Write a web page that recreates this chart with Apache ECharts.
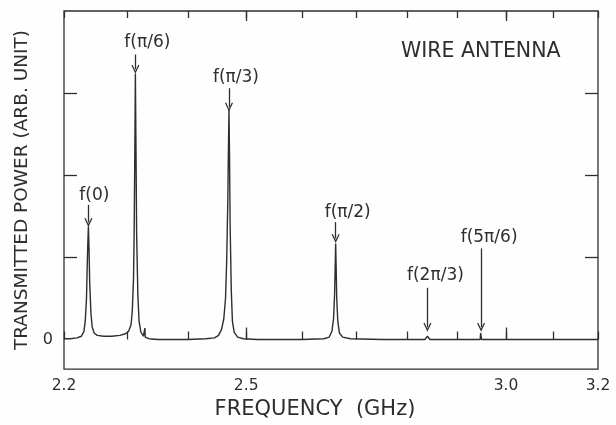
<!DOCTYPE html>
<html>
<head>
<meta charset="utf-8">
<script src="https://cdn.jsdelivr.net/npm/echarts@6/dist/echarts.min.js"></script>
<style>
html,body{margin:0;padding:0;background:#fefefe;}
#chart{width:616px;height:425px;}
</style>
</head>
<body>
<div id="chart"></div>
<script>
// ---- data ----
const freqGHz = [
  2.200, 2.210, 2.220, 2.227, 2.231, 2.233, 2.235, 2.236, 2.237, 2.238, 2.239, 2.240, 2.242, 2.244, 2.247,
  2.252, 2.262, 2.275, 2.288, 2.297, 2.302, 2.306, 2.308, 2.310, 2.311, 2.312, 2.313, 2.314, 2.315, 2.317,
  2.319, 2.322, 2.326, 2.328, 2.3285, 2.329, 2.335, 2.350, 2.400, 2.430, 2.445, 2.452, 2.457, 2.461, 2.464,
  2.466, 2.468, 2.469, 2.470, 2.471, 2.472, 2.474, 2.476, 2.479, 2.485, 2.495, 2.520, 2.600, 2.640, 2.650,
  2.655, 2.658, 2.660, 2.661, 2.662, 2.663, 2.664, 2.666, 2.669, 2.675, 2.690, 2.750, 2.834, 2.837, 2.839,
  2.841, 2.844, 2.946, 2.947, 2.949, 3.100, 3.200
];
const power = [
  0.01, 0.01, 0.02, 0.04, 0.10, 0.22, 0.50, 0.85, 1.15, 1.38, 1.10, 0.70, 0.32, 0.15, 0.08,
  0.05, 0.04, 0.04, 0.05, 0.07, 0.10, 0.18, 0.35, 0.75, 1.30, 2.20, 3.24, 2.30, 1.30, 0.55,
  0.22, 0.09, 0.04, 0.03, 0.14, 0.03, 0.01, 0.00, 0.00, 0.01, 0.02, 0.05, 0.12, 0.25, 0.50,
  0.95, 1.70, 2.30, 2.80, 2.20, 1.40, 0.60, 0.22, 0.09, 0.03, 0.01, 0.00, 0.00, 0.01, 0.03,
  0.10, 0.25, 0.55, 0.85, 1.17, 0.85, 0.50, 0.22, 0.08, 0.03, 0.01, 0.00, 0.00, 0.02, 0.04,
  0.02, 0.00, 0.00, 0.08, 0.00, 0.00, 0.00
];
const xTickValues = [2.2, 2.3, 2.4, 2.5, 2.6, 2.7, 2.8, 2.9, 3.0, 3.1, 3.2];
const xMajorTicks = [2.5, 3.0];
const xTickLabels = [2.2, 2.5, 3.0, 3.2];
const yTickValues = [1, 2, 3];
const yTickLabels = [0];
const peakLabels = ['f(0)', 'f(π/6)', 'f(π/3)', 'f(π/2)', 'f(2π/3)', 'f(5π/6)'];
const peakFreq   = [2.238, 2.313, 2.470, 2.662, 2.839, 2.948];
const arrowFrom  = [1.64, 3.47, 3.06, 1.43, 0.63, 1.11];
const arrowTo    = [1.425, 3.29, 2.83, 1.23, 0.15, 0.15];
const labelLevel = [1.75, 3.62, 3.19, 1.545, 0.78, 1.24];

// ---- styles ----
const ink = '#2e2e2e';
const font = 'DejaVu Sans';
const labelDx = [6, 12, 7, 12, 8, 8];
const chevron = 'path://M0,10 L5,0 L10,10 L8.6,10.6 L5,3.4 L1.4,10.6 Z';

const chart = echarts.init(document.getElementById('chart'), null, {renderer: 'canvas'});

const baseX = {
  type: 'log', logBase: 10, min: 2.2, max: 3.2,
  axisLine: {show: false}, splitLine: {show: false}, minorTick: {show: false}
};

const option = {
  backgroundColor: '#fefefe',
  animation: false,
  title: {
    text: 'WIRE ANTENNA', left: 401, top: 41, padding: 0,
    textStyle: {fontFamily: font, fontSize: 20.5, fontWeight: 'normal', color: ink}
  },
  grid: {left: 64, right: 18, top: 11, bottom: 50, show: true, borderColor: ink, borderWidth: 1.3, backgroundColor: 'transparent'},
  xAxis: [
    Object.assign({}, baseX, {
      position: 'bottom',
      name: 'FREQUENCY  (GHz)', nameLocation: 'middle', nameGap: 23,
      nameTextStyle: {fontFamily: font, fontSize: 21, color: ink, padding: [0, 32, 0, 0]},
      axisTick: {show: true, inside: true, length: 8, lineStyle: {color: ink, width: 1.3}, customValues: xTickValues},
      axisLabel: {show: true, customValues: xTickLabels, margin: 9, fontFamily: font, fontSize: 15.5, color: ink,
        formatter: v => Number(v).toFixed(1)}
    }),
    Object.assign({}, baseX, {
      position: 'bottom',
      axisTick: {show: true, inside: true, length: 12, lineStyle: {color: ink, width: 1.3}, customValues: xMajorTicks},
      axisLabel: {show: false}
    }),
    Object.assign({}, baseX, {
      position: 'top',
      axisTick: {show: true, inside: true, length: 7, lineStyle: {color: ink, width: 1.3}, customValues: xTickValues},
      axisLabel: {show: false}
    }),
    Object.assign({}, baseX, {
      position: 'top',
      axisTick: {show: true, inside: true, length: 10, lineStyle: {color: ink, width: 1.3}, customValues: xMajorTicks},
      axisLabel: {show: false}
    })
  ],
  yAxis: [
    {
      type: 'value', min: -0.36, max: 4, position: 'left',
      name: 'TRANSMITTED POWER (ARB. UNIT)', nameLocation: 'middle', nameGap: 28,
      nameTextStyle: {fontFamily: font, fontSize: 18.5, color: ink},
      axisLine: {show: false}, splitLine: {show: false},
      axisTick: {show: true, inside: true, length: 13, lineStyle: {color: ink, width: 1.3}, customValues: yTickValues},
      axisLabel: {show: true, customValues: yTickLabels, margin: 11, fontFamily: font, fontSize: 16, color: ink}
    },
    {
      type: 'value', min: -0.36, max: 4, position: 'right',
      axisLine: {show: false}, splitLine: {show: false},
      axisTick: {show: true, inside: true, length: 13, lineStyle: {color: ink, width: 1.3}, customValues: yTickValues},
      axisLabel: {show: false}
    }
  ],
  series: [
    {
      type: 'line', xAxisIndex: 0, yAxisIndex: 0,
      data: freqGHz.map((f, i) => [f, power[i]]),
      showSymbol: false, symbol: 'none', smooth: false,
      lineStyle: {color: ink, width: 1.4},
      silent: true,
      markLine: {
        silent: true, animation: false,
        symbol: ['none', chevron], symbolSize: [8, 9],
        lineStyle: {color: ink, width: 1.3, type: 'solid'},
        label: {show: false},
        data: peakFreq.map((f, i) => [{coord: [f, arrowFrom[i]]}, {coord: [f, arrowTo[i]]}])
      }
    },
    {
      type: 'scatter', xAxisIndex: 0, yAxisIndex: 0,
      symbolSize: 0, silent: true,
      itemStyle: {opacity: 1},
      data: peakFreq.map((f, i) => ({
        value: [f, labelLevel[i]],
        label: {show: true, position: 'inside', offset: [labelDx[i], 0], formatter: peakLabels[i],
          fontFamily: font, fontSize: 17, color: ink, opacity: 1, textBorderWidth: 0}
      }))
    }
  ]
};
chart.setOption(option);
</script>
</body>
</html>
